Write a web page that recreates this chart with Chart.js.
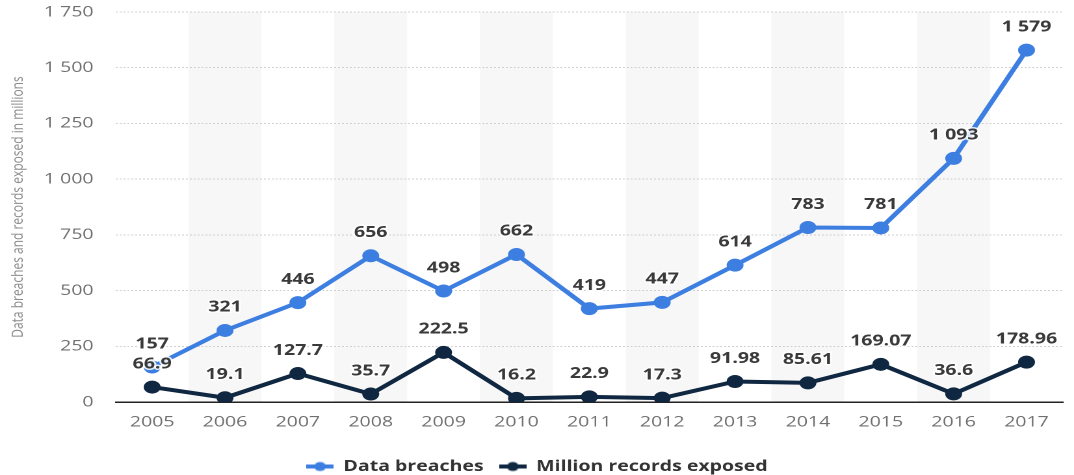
<!DOCTYPE html>
<html>
<head>
<meta charset="utf-8">
<script src="https://cdn.jsdelivr.net/npm/chart.js@4"></script>
<style>
  html, body { margin: 0; padding: 0; background: #fff; overflow: hidden; }
  /* the reference is a horizontally stretched chart, so draw narrow and stretch */
  #wrap { width: 826px; height: 475px; transform: scaleX(1.30024); transform-origin: 0 0; }
</style>
</head>
<body>
<div id="wrap"><canvas id="breaches"></canvas></div>
<script>
// data
const years = ["2005", "2006", "2007", "2008", "2009", "2010", "2011", "2012", "2013", "2014", "2015", "2016", "2017"];
const dataBreaches = [157, 321, 446, 656, 498, 662, 419, 447, 614, 783, 781, 1093, 1579];
const recordsExposed = [66.9, 19.1, 127.7, 35.7, 222.5, 16.2, 22.9, 17.3, 91.98, 85.61, 169.07, 36.6, 178.96];
const yTicks = [0, 250, 500, 750, 1000, 1250, 1500, 1750];

const blue = "#3d7ee1";
const navy = "#0f2741";
const fontFamily = "'Open Sans'";

// thousands with a space, like "1 579"
function fmt(v) {
  const parts = String(v).split(".");
  parts[0] = parts[0].replace(/\B(?=(\d{3})+(?!\d))/g, " ");
  return parts.join(".");
}

// legend marker: short line with a dot in the middle
function legendIcon(color) {
  const c = document.createElement("canvas");
  c.width = 21;
  c.height = 10;
  const g = c.getContext("2d");
  g.strokeStyle = color;
  g.lineWidth = 4;
  g.beginPath();
  g.moveTo(0, 5);
  g.lineTo(21, 5);
  g.stroke();
  g.fillStyle = color;
  g.beginPath();
  g.arc(10.5, 5, 4.5, 0, Math.PI * 2);
  g.fill();
  return c;
}

// grey bands behind every other year
const bands = {
  id: "bands",
  beforeDraw(chart) {
    const { ctx, chartArea, scales } = chart;
    const step = scales.x.getPixelForValue(1) - scales.x.getPixelForValue(0);
    ctx.save();
    ctx.fillStyle = "#f7f7f7";
    years.forEach((y, i) => {
      if (i % 2 === 1) {
        const cx = scales.x.getPixelForValue(i);
        ctx.fillRect(cx - step / 2, chartArea.top, step, chartArea.bottom - chartArea.top);
      }
    });
    ctx.restore();
  },
};

// value labels above each point, with a white halo
const valueLabels = {
  id: "valueLabels",
  afterDatasetsDraw(chart) {
    const { ctx } = chart;
    ctx.save();
    ctx.font = "bold 15px " + fontFamily;
    ctx.textAlign = "center";
    ctx.textBaseline = "middle";
    ctx.lineJoin = "round";
    chart.data.datasets.forEach((ds, di) => {
      chart.getDatasetMeta(di).data.forEach((pt, i) => {
        const txt = fmt(ds.data[i]);
        ctx.strokeStyle = "rgba(255,255,255,0.85)";
        ctx.lineWidth = 3;
        ctx.strokeText(txt, pt.x, pt.y - 23);
        ctx.fillStyle = "#3a3a3a";
        ctx.fillText(txt, pt.x, pt.y - 23);
      });
    });
    ctx.restore();
  },
};

new Chart(document.getElementById("breaches").getContext("2d"), {
  type: "line",
  data: {
    labels: years,
    datasets: [
      {
        label: "Data breaches",
        data: dataBreaches,
        borderColor: blue,
        backgroundColor: blue,
        borderWidth: 4,
        pointRadius: 4.5,
        pointHoverRadius: 4.5,
        tension: 0,
      },
      {
        label: "Million records exposed",
        data: recordsExposed,
        borderColor: navy,
        backgroundColor: navy,
        borderWidth: 4,
        pointRadius: 4.5,
        pointHoverRadius: 4.5,
        tension: 0,
      },
    ],
  },
  options: {
    responsive: true,
    maintainAspectRatio: false,
    animation: false,
    devicePixelRatio: 2,
    layout: { padding: { top: 0, right: 0, left: 0, bottom: -9 } },
    scales: {
      x: {
        offset: true,
        grid: { display: false },
        border: { display: true, color: "#222", width: 1.5 },
        ticks: { color: "#707070", font: { family: fontFamily, size: 15 }, padding: 3 },
        afterFit(axis) {
          axis.height = 45;
        },
      },
      y: {
        min: 0,
        max: 1750,
        afterBuildTicks(axis) {
          axis.ticks = yTicks.map((v) => ({ value: v }));
        },
        afterFit(axis) {
          axis.width = 89;
          axis.paddingTop = 12;
          axis.paddingBottom = 0;
        },
        grid: { color: "#cfcfcf", drawTicks: false, lineWidth: 1 },
        border: { display: false, dash: [1.5, 1.5] },
        ticks: {
          color: "#707070",
          font: { family: fontFamily, size: 15 },
          padding: 17,
          callback: (v) => fmt(v),
        },
        title: {
          display: true,
          text: "Data breaches and records exposed in millions",
          color: "#8a8a8a",
          font: { family: fontFamily, size: 12 },
          padding: { top: 7, bottom: 0 },
        },
      },
    },
    plugins: {
      legend: {
        position: "bottom",
        labels: {
          color: "#333",
          font: { family: fontFamily, size: 15, weight: "bold" },
          usePointStyle: true,
          pointStyleWidth: 21,
          boxHeight: 10,
          padding: 12,
          generateLabels(chart) {
            const items = Chart.defaults.plugins.legend.labels.generateLabels(chart);
            items.forEach((it, i) => {
              it.pointStyle = legendIcon(i === 0 ? blue : navy);
            });
            return items;
          },
        },
      },
      tooltip: { enabled: false },
    },
  },
  plugins: [bands, valueLabels],
});
</script>
</body>
</html>
